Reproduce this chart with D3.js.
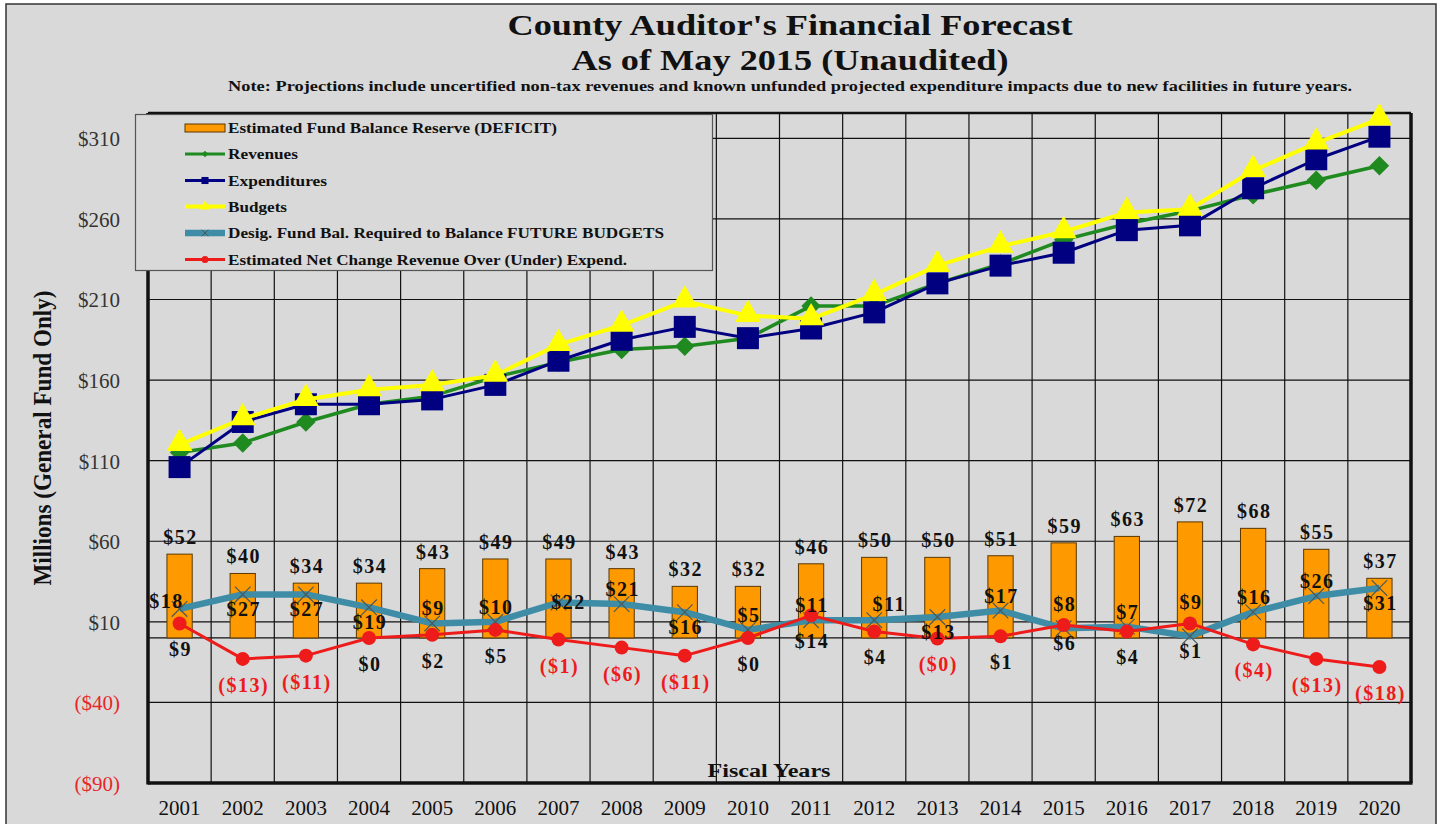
<!DOCTYPE html>
<html>
<head>
<meta charset="utf-8">
<script src="https://cdn.jsdelivr.net/npm/d3@7/dist/d3.min.js"></script>
<style>
  html, body { margin: 0; padding: 0; background: #ffffff; }
  svg { display: block; }
  text { font-family: "Liberation Serif", "Times New Roman", serif; }
</style>
</head>
<body>
<svg id="chart" width="1442" height="824"></svg>
<script>
// ---------------- DATA ----------------
const years = ['2001','2002','2003','2004','2005','2006','2007','2008','2009','2010',
               '2011','2012','2013','2014','2015','2016','2017','2018','2019','2020'];
const fundBalance  = [52, 40, 34, 34, 43, 49, 49, 43, 32, 32, 46, 50, 50, 51, 59, 63, 72, 68, 55, 37];
const revenues     = [115, 121, 134, 145, 150, 162, 171, 179, 181, 186, 206, 206, 220, 232, 247, 257, 265, 275, 284, 293];
const expenditures = [106, 134, 145, 145, 148, 157, 172, 185, 193, 186, 192, 202, 220, 231, 239, 253, 256, 279, 297, 311];
const budgets      = [120, 136, 148, 154, 157, 163, 182, 194, 209, 200, 198, 213, 231, 243, 252, 264, 266, 290, 307, 322];
const desigFundBal = [18, 27, 27, 19, 9, 10, 22, 21, 16, 5, 11, 11, 13, 17, 6, 7, 1, 16, 26, 31];
const netChange    = [9, -13, -11, 0, 2, 5, -1, -6, -11, 0, 14, 4, -0.3, 1, 8, 4, 9, -4, -13, -18];
const yTickValues  = [310, 260, 210, 160, 110, 60, 10, -40, -90];
const seriesNames  = ['Estimated Fund Balance Reserve (DEFICIT)', 'Revenues', 'Expenditures', 'Budgets',
                      'Desig. Fund Bal. Required to Balance FUTURE BUDGETS',
                      'Estimated Net Change Revenue Over (Under) Expend.'];
// label placement codes (style only)
const desigLabelPlace = ['left','below','below','below','above','above','right','above','below','above',
                         'above','aboveRight','below','above','below','above','below','above','above','below'];
const netLabelPlace   = ['below','below','below','below','below','below','below','below','below','below',
                         'below','below','below','below','above','below','above','below','below','below'];

// ---------------- LAYOUT ----------------
const W = 1442, H = 824;
const plot = { left: 148, right: 1411, top: 113, bottom: 783 };
const C = {
  bg: '#d9d9d9', bar: '#ff9900', barStroke: '#5a3800',
  green: '#1f8a1f', navy: '#000080', yellow: '#ffff00',
  teal: '#3e8ca6', red: '#ee1b1b', negText: '#e8262a'
};
const fmt = v => { const r = Math.round(Math.abs(v)); return v < 0 ? `($${r})` : `$${r}`; };

const svg = d3.select('#chart');

// background & frame
svg.append('rect').attr('x', 6).attr('y', 4).attr('width', 1430).attr('height', 830)
  .attr('fill', C.bg).attr('stroke', '#333').attr('stroke-width', 1.5);

const x = d3.scaleBand().domain(years).range([plot.left, plot.right]).padding(0);
const y = d3.scaleLinear().domain([-90, 325.7]).range([plot.bottom, plot.top]);
const cx = yr => x(yr) + x.bandwidth() / 2;

// title
svg.append('text').attr('x', 790).attr('y', 35).attr('text-anchor', 'middle')
  .attr('font-size', 30).attr('font-weight', 'bold').attr('fill', '#111')
  .attr('textLength', 565).attr('lengthAdjust', 'spacingAndGlyphs')
  .text("County Auditor's Financial Forecast");
svg.append('text').attr('x', 790).attr('y', 70).attr('text-anchor', 'middle')
  .attr('font-size', 30).attr('font-weight', 'bold').attr('fill', '#111')
  .attr('textLength', 437).attr('lengthAdjust', 'spacingAndGlyphs')
  .text('As of May 2015 (Unaudited)');
svg.append('text').attr('x', 790).attr('y', 91).attr('text-anchor', 'middle')
  .attr('font-size', 14).attr('font-weight', 'bold').attr('fill', '#111')
  .attr('textLength', 1124).attr('lengthAdjust', 'spacingAndGlyphs')
  .text('Note:  Projections include uncertified non-tax revenues and known unfunded  projected expenditure impacts due to new facilities in future years.');

// gridlines
const grid = svg.append('g');
grid.selectAll('line.h').data(yTickValues.filter(v => v > -90).concat([0])).join('line')
  .attr('x1', plot.left).attr('x2', plot.right)
  .attr('y1', d => y(d)).attr('y2', d => y(d))
  .attr('stroke', '#111').attr('stroke-width', 1.2);
grid.selectAll('line.v').data(years.slice(1)).join('line')
  .attr('x1', d => x(d)).attr('x2', d => x(d))
  .attr('y1', plot.top).attr('y2', plot.bottom)
  .attr('stroke', '#111').attr('stroke-width', 1.2);

// plot frame
svg.append('line').attr('x1', plot.left).attr('x2', plot.right).attr('y1', plot.top).attr('y2', plot.top)
  .attr('stroke', '#111').attr('stroke-width', 2.5);
svg.append('line').attr('x1', plot.right).attr('x2', plot.right).attr('y1', plot.top).attr('y2', plot.bottom)
  .attr('stroke', '#111').attr('stroke-width', 3.5);
svg.append('line').attr('x1', plot.left).attr('x2', plot.left).attr('y1', plot.top).attr('y2', plot.bottom + 1.5)
  .attr('stroke', '#111').attr('stroke-width', 3.5);
svg.append('line').attr('x1', plot.left).attr('x2', plot.right + 1.5).attr('y1', plot.bottom).attr('y2', plot.bottom)
  .attr('stroke', '#111').attr('stroke-width', 3.5);

// y axis
const yAxis = d3.axisLeft(y).tickValues(yTickValues).tickSize(0).tickPadding(0).tickFormat(fmt);
const gy = svg.append('g').attr('transform', 'translate(120,0)').call(yAxis);
gy.select('.domain').remove();
gy.selectAll('text').attr('font-size', 21).attr('font-family', '"Liberation Serif", serif')
  .attr('fill', d => d < 0 ? C.negText : '#333').attr('dy', '0.35em');

// x axis
const xAxis = d3.axisBottom(x).tickSize(0).tickPadding(0);
const gx = svg.append('g').attr('transform', 'translate(0,799)').call(xAxis);
gx.select('.domain').remove();
gx.selectAll('text').attr('font-size', 21).attr('font-family', '"Liberation Serif", serif')
  .attr('fill', '#111').attr('dy', '0.75em');

// axis titles
svg.append('text').attr('transform', 'translate(51,438) rotate(-90)').attr('text-anchor', 'middle')
  .attr('font-size', 25).attr('font-weight', 'bold').attr('fill', '#111')
  .attr('textLength', 295).attr('lengthAdjust', 'spacingAndGlyphs')
  .text('Millions  (General Fund Only)');
svg.append('text').attr('x', 769).attr('y', 777).attr('text-anchor', 'middle')
  .attr('font-size', 18).attr('font-weight', 'bold').attr('fill', '#111')
  .attr('textLength', 123).attr('lengthAdjust', 'spacingAndGlyphs')
  .text('Fiscal Years');

// bars
const barW = x.bandwidth() * 0.4;
svg.append('g').selectAll('rect').data(fundBalance).join('rect')
  .attr('x', (d, i) => cx(years[i]) - barW / 2)
  .attr('width', barW)
  .attr('y', d => y(Math.max(d, 0)))
  .attr('height', d => Math.abs(y(d) - y(0)))
  .attr('fill', C.bar).attr('stroke', C.barStroke).attr('stroke-width', 1);

// lines helper
function drawLine(values, color, width) {
  const line = d3.line().x((d, i) => cx(years[i])).y(d => y(d));
  svg.append('path').datum(values).attr('d', line)
    .attr('fill', 'none').attr('stroke', color).attr('stroke-width', width)
    .attr('stroke-linejoin', 'round');
}

// Revenues
drawLine(revenues, C.green, 3.5);
svg.append('g').selectAll('path').data(revenues).join('path')
  .attr('d', d3.symbol().type(d3.symbolSquare).size(190))
  .attr('transform', (d, i) => `translate(${cx(years[i])},${y(d)}) rotate(45)`)
  .attr('fill', C.green);

// Expenditures
drawLine(expenditures, C.navy, 3);
svg.append('g').selectAll('path').data(expenditures).join('path')
  .attr('d', d3.symbol().type(d3.symbolSquare).size(484))
  .attr('transform', (d, i) => `translate(${cx(years[i])},${y(d)})`)
  .attr('fill', C.navy);

// Budgets
drawLine(budgets, C.yellow, 4);
svg.append('g').selectAll('path').data(budgets).join('path')
  .attr('d', d3.symbol().type(d3.symbolTriangle).size(290))
  .attr('transform', (d, i) => `translate(${cx(years[i])},${y(d) - 1})`)
  .attr('fill', C.yellow);

// Desig fund bal
drawLine(desigFundBal, C.teal, 6.5);
svg.append('g').selectAll('path').data(desigFundBal).join('path')
  .attr('d', d3.symbol().type(d3.symbolX).size(160))
  .attr('transform', (d, i) => `translate(${cx(years[i])},${y(d)})`)
  .attr('fill', 'none').attr('stroke', '#4a5a5a').attr('stroke-width', 1.2);

// Net change
drawLine(netChange, C.red, 3);
svg.append('g').selectAll('circle').data(netChange).join('circle')
  .attr('cx', (d, i) => cx(years[i])).attr('cy', d => y(d)).attr('r', 7)
  .attr('fill', C.red);

// data labels
const lbl = svg.append('g').attr('font-size', 20).attr('font-weight', 'bold')
  .attr('text-anchor', 'middle').attr('letter-spacing', 1.5);
lbl.selectAll('text.bar').data(fundBalance).join('text')
  .attr('x', (d, i) => cx(years[i]) + 1).attr('y', d => y(d) - 10)
  .attr('fill', '#111').text(fmt);

const placeOff = {
  above: [0, -8], below: [0, 22], left: [-14, -1], right: [9, 7], aboveRight: [14, -9]
};
lbl.selectAll('text.desig').data(desigFundBal).join('text')
  .attr('x', (d, i) => cx(years[i]) + placeOff[desigLabelPlace[i]][0] + 1)
  .attr('y', (d, i) => y(d) + placeOff[desigLabelPlace[i]][1])
  .attr('fill', '#111').text(fmt);

const netOff = { above: [0, -14], below: [0, 33] };
lbl.selectAll('text.net').data(netChange).join('text')
  .attr('x', (d, i) => cx(years[i]) + 1)
  .attr('y', (d, i) => y(d) + netOff[netLabelPlace[i]][1])
  .attr('fill', d => d < 0 ? C.red : '#111').text(fmt);

// legend
const lg = svg.append('g');
lg.append('rect').attr('x', 135.5).attr('y', 114.5).attr('width', 577).attr('height', 156)
  .attr('fill', C.bg).attr('stroke', '#555').attr('stroke-width', 1.2);
const legY = [128, 154, 180.5, 206.5, 233, 259.5];
const legLen = [329, 70, 99, 59, 436, 399];
const lx0 = 185, lx1 = 225, lmid = 205;
// bar symbol
lg.append('rect').attr('x', lx0).attr('y', legY[0] - 4).attr('width', lx1 - lx0).attr('height', 8)
  .attr('fill', C.bar).attr('stroke', '#5a3800').attr('stroke-width', 1);
const legLines = [
  { c: C.green, w: 3, sym: 'diamond' },
  { c: C.navy, w: 3, sym: 'square' },
  { c: C.yellow, w: 4, sym: 'triangle' },
  { c: C.teal, w: 6.5, sym: 'x' },
  { c: C.red, w: 3, sym: 'circle' }
];
legLines.forEach((s, k) => {
  const yy = legY[k + 1];
  lg.append('line').attr('x1', lx0).attr('x2', lx1).attr('y1', yy).attr('y2', yy)
    .attr('stroke', s.c).attr('stroke-width', s.w);
  if (s.sym === 'diamond') lg.append('path').attr('d', d3.symbol().type(d3.symbolSquare).size(22)())
    .attr('transform', `translate(${lmid},${yy}) rotate(45)`).attr('fill', s.c);
  if (s.sym === 'square') lg.append('path').attr('d', d3.symbol().type(d3.symbolSquare).size(50)())
    .attr('transform', `translate(${lmid},${yy})`).attr('fill', s.c);
  if (s.sym === 'triangle') lg.append('path').attr('d', d3.symbol().type(d3.symbolTriangle).size(45)())
    .attr('transform', `translate(${lmid},${yy})`).attr('fill', s.c);
  if (s.sym === 'x') lg.append('path').attr('d', d3.symbol().type(d3.symbolX).size(30)())
    .attr('transform', `translate(${lmid},${yy})`).attr('fill', 'none').attr('stroke', '#4a5a5a').attr('stroke-width', 1);
  if (s.sym === 'circle') lg.append('circle').attr('cx', lmid).attr('cy', yy).attr('r', 3.5).attr('fill', s.c);
});
lg.selectAll('text').data(seriesNames).join('text')
  .attr('x', 228).attr('y', (d, i) => legY[i] + 5)
  .attr('font-size', 15).attr('font-weight', 'bold').attr('fill', '#111')
  .attr('textLength', (d, i) => legLen[i]).attr('lengthAdjust', 'spacingAndGlyphs')
  .text(d => d);
</script>
</body>
</html>
